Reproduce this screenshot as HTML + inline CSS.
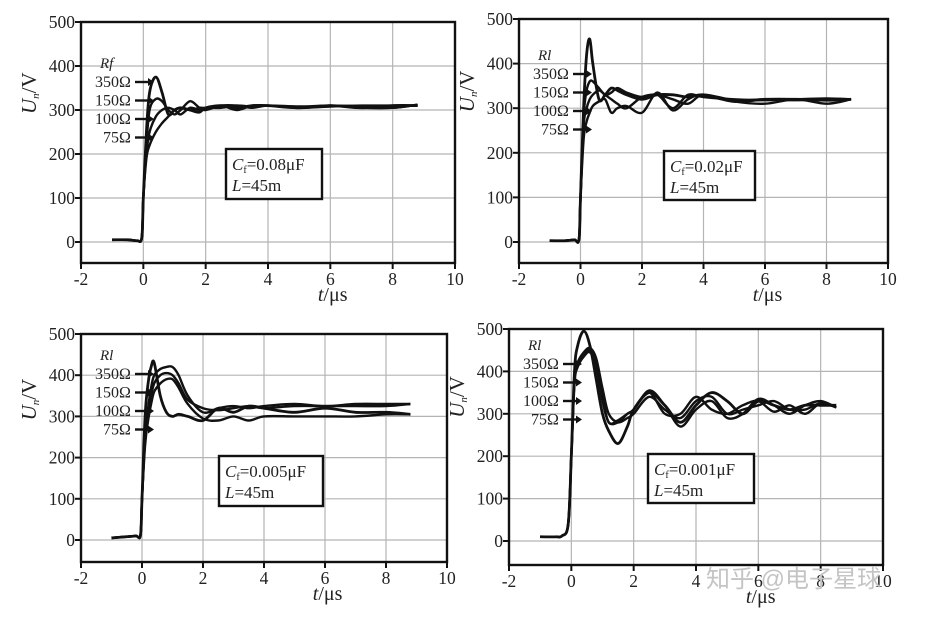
<!DOCTYPE html>
<html><head><meta charset="utf-8"><style>
html,body{margin:0;padding:0;background:#fff;width:934px;height:618px;overflow:hidden}
svg{display:block}
text{font-family:"Liberation Serif",serif;fill:#222}
</style></head><body>
<svg id="chart" width="934" height="618" viewBox="0 0 934 618"></svg>
<script>
// ---- data ----
const xTicks = [-2,0,2,4,6,8,10];
const yTicks = [0,100,200,300,400,500];
const seriesNames = ["350Ω","150Ω","100Ω","75Ω"];
const capLabels = ["0.08μF","0.02μF","0.005μF","0.001μF"];

const t1 = [-1,-0.5,-0.2,-0.05,0,0.1,0.2,0.4,0.6,0.8,1.0,1.2,1.5,1.8,2.0,2.5,3,3.5,4,5,6,7,8,8.8];
const p1s350 = [5,5,3,10,100,250,340,375,340,290,300,305,300,295,305,310,305,310,310,305,310,305,310,310];
const p1s150 = [5,5,3,10,100,220,300,325,320,300,290,300,320,305,300,310,310,305,310,308,310,308,305,312];
const p1s100 = [5,5,3,10,100,200,250,285,300,305,300,290,305,300,305,305,310,308,310,305,308,310,310,310];
const p1s75  = [5,5,3,10,100,190,220,250,270,285,300,305,300,305,305,310,300,310,310,305,310,305,305,312];

const t2 = [-1,-0.5,-0.2,-0.05,0,0.1,0.2,0.3,0.4,0.6,0.8,1.0,1.2,1.5,2,2.5,3,3.5,4,5,6,7,8,8.8];
const p2s350 = [3,3,5,6,100,300,420,455,400,320,330,345,340,330,320,330,330,325,330,315,320,320,318,320];
const p2s150 = [3,3,5,6,100,280,340,360,360,345,330,335,345,335,325,330,300,330,325,320,318,320,322,320];
const p2s100 = [3,3,5,6,100,260,300,320,330,340,330,320,310,300,325,330,320,310,330,318,320,318,320,320];
const p2s75  = [3,3,5,6,100,230,270,290,305,315,320,290,300,305,290,335,295,320,330,315,310,320,310,320];

const t3 = [-1,-0.5,-0.2,-0.05,0,0.1,0.2,0.3,0.4,0.6,0.8,1.0,1.2,1.5,2,2.5,3,3.5,4,5,6,7,8,8.8];
const p3s350 = [5,8,10,12,100,300,380,420,430,350,310,300,305,300,290,320,310,325,320,310,320,310,310,305];
const p3s150 = [5,8,10,12,100,250,320,370,400,415,420,420,400,350,310,320,325,320,325,330,325,330,330,330];
const p3s100 = [5,8,10,12,100,240,300,350,380,400,405,400,380,340,320,315,320,325,320,325,325,325,325,330];
const p3s75  = [5,8,10,12,100,230,290,330,360,380,390,390,370,330,295,290,300,290,300,300,300,300,305,305];

const t4 = [-1,-0.5,-0.3,-0.1,0,0.1,0.2,0.4,0.6,0.8,1.0,1.2,1.5,1.8,2.0,2.5,3.0,3.5,4.0,4.5,5,5.5,6,6.5,7,7.5,8,8.5];
const p4s350 = [10,10,12,40,200,400,460,495,460,380,300,260,230,270,310,350,320,280,320,350,330,300,330,320,310,320,320,320];
const p4s150 = [10,10,12,40,200,380,420,445,455,430,360,300,280,290,300,340,310,290,330,340,300,310,320,330,310,310,325,315];
const p4s100 = [10,10,12,40,200,380,420,440,450,420,340,280,285,300,310,350,300,300,340,310,300,320,330,305,320,300,325,315];
const p4s75  = [10,10,12,40,200,370,410,435,445,410,330,280,280,300,310,355,320,270,310,330,290,300,335,320,300,320,330,315];

// ---- layout ----
const panels = [
 {x0:81,x1:455,y5:22,y0:242,yb:263,t:t1,s:[p1s350,p1s150,p1s100,p1s75],box:[226,149,92,50],leg:[95,68],rf:"Rf"},
 {x0:519,x1:888,y5:19,y0:242,yb:263,t:t2,s:[p2s350,p2s150,p2s100,p2s75],box:[664,151,87,49],leg:[533,60],rf:"Rl"},
 {x0:81,x1:447,y5:334,y0:540,yb:562,t:t3,s:[p3s350,p3s150,p3s100,p3s75],box:[219,456,100,50],leg:[95,360],rf:"Rl"},
 {x0:509,x1:883,y5:329,y0:541,yb:565,t:t4,s:[p4s350,p4s150,p4s100,p4s75],box:[648,454,102,49],leg:[523,350],rf:"Rl"}
];
const svg=document.getElementById('chart');
const NS='http://www.w3.org/2000/svg';
function mk(tag,attrs,parent){const e=document.createElementNS(NS,tag);for(const k in attrs)e.setAttribute(k,attrs[k]);(parent||svg).appendChild(e);return e;}
function smooth(pts){let d=`M${pts[0][0]},${pts[0][1]}`;for(let i=0;i<pts.length-1;i++){const p0=pts[i-1]||pts[i],p1=pts[i],p2=pts[i+1],p3=pts[i+2]||p2;
 const c1=[p1[0]+(p2[0]-p0[0])/6,p1[1]+(p2[1]-p0[1])/6],c2=[p2[0]-(p3[0]-p1[0])/6,p2[1]-(p3[1]-p1[1])/6];
 d+=` C${c1[0].toFixed(1)},${c1[1].toFixed(1)} ${c2[0].toFixed(1)},${c2[1].toFixed(1)} ${p2[0].toFixed(1)},${p2[1].toFixed(1)}`;}return d;}

panels.forEach((P,pi)=>{
 const g=mk('g',{});
 
 
 const xs=v=>P.x0+(v+2)/12*(P.x1-P.x0);
 const ys=v=>P.y0-(v/500)*(P.y0-P.y5);
 const top=P.y5;
 xTicks.forEach(v=>{if(v>-2&&v<10){const l=mk('line',{x1:xs(v),x2:xs(v),y1:top,y2:P.yb,stroke:'#b4b4b4','stroke-width':1.2},g);
  }});
 yTicks.forEach(v=>{if(v<500){const l=mk('line',{x1:P.x0,x2:P.x1,y1:ys(v),y2:ys(v),stroke:'#b4b4b4','stroke-width':1.2},g);
  }});
 const fr=mk('rect',{x:P.x0,y:top,width:P.x1-P.x0,height:P.yb-top,fill:'none',stroke:'#111','stroke-width':2.4},g);
 
 yTicks.forEach(v=>{mk('line',{x1:P.x0-6,x2:P.x0,y1:ys(v),y2:ys(v),stroke:'#111','stroke-width':2},g);
  const tx=mk('text',{x:P.x0-6,y:ys(v)+6,'text-anchor':'end','font-size':17.5},g);tx.textContent=v;
  });
 xTicks.forEach(v=>{mk('line',{x1:xs(v),x2:xs(v),y1:P.yb,y2:P.yb+6,stroke:'#111','stroke-width':2},g);
  const tx=mk('text',{x:xs(v),y:P.yb+22,'text-anchor':'middle','font-size':17.5},g);tx.textContent=v;
  });
 const yt=mk('text',{transform:`translate(${P.x0-45},${ys(300)+4}) rotate(-90)`,'font-size':21,'font-style':'italic'},g);
 yt.innerHTML='U<tspan font-size="11" dy="3">n</tspan><tspan dy="-3" font-style="normal">/V</tspan>';
 
 const xt=mk('text',{x:xs(5.6),y:P.yb+38,'font-size':20},g);
 xt.innerHTML='<tspan font-style="italic">t</tspan>/μs';
 
 P.s.forEach((arr,si)=>{const pts=P.t.map((tv,i)=>[xs(tv),ys(arr[i])]);
  const p=mk('path',{d:smooth(pts),fill:'none',stroke:'#111','stroke-width':si==0?2.8:2.4,'stroke-linejoin':'round'},g);
  });
 const [lx,ly]=P.leg;
 const rt=mk('text',{x:lx+5,y:ly,'font-size':15,'font-style':'italic'},g);rt.textContent=P.rf;
 
 seriesNames.forEach((n,i)=>{const y=ly+19+i*18.5;
  const tx=mk('text',{x:lx+(i==3?8:0),y:y,'font-size':16},g);tx.textContent=n;
  
  mk('line',{x1:lx+40,x2:lx+54,y1:y-5,y2:y-5,stroke:'#111','stroke-width':2.4},g);
  mk('path',{d:`M${lx+53},${y-9} L${lx+59},${y-5} L${lx+53},${y-1}Z`,fill:'#111'},g);});
 const [bx,by,bw,bh]=P.box;
 const b=mk('rect',{x:bx,y:by,width:bw+4,height:bh,fill:'#fff',stroke:'#111','stroke-width':2.4},g);
 
 const c=mk('text',{x:bx+6,y:by+21,'font-size':17},g);
 c.innerHTML='<tspan font-style="italic">C</tspan><tspan font-size="10" dy="3">f</tspan><tspan dy="-3">=</tspan>'+capLabels[pi];
 
 const L=mk('text',{x:bx+6,y:by+42,'font-size':17},g);
 L.innerHTML='<tspan font-style="italic">L</tspan>=45m';
 
});
const wm=mk('text',{x:706,y:587,'font-size':24});
wm.setAttribute('style','fill:#c4c4c4;font-family:"Liberation Sans","Noto Sans CJK SC",sans-serif');
wm.textContent='知乎 @电子星球';


</script>
</body></html>
